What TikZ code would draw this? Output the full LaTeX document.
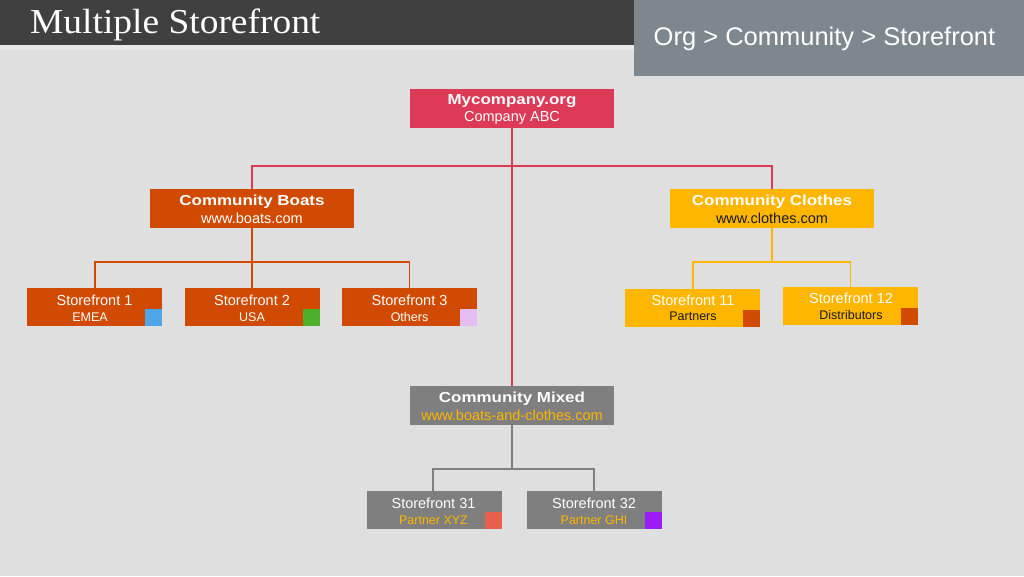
\documentclass[tikz,border=0pt]{standalone}
\usepackage{fontspec}
\setmainfont{Liberation Sans}
\newfontfamily\hdfont[FakeStretch=1.07]{Liberation Serif}
\newfontfamily\bfont[FakeStretch=1.17]{Liberation Sans Bold}
\definecolor{bg}{HTML}{DFDFDF}
\definecolor{strip}{HTML}{E9E9E9}
\definecolor{hdbar}{HTML}{404040}
\definecolor{crumb}{HTML}{7E878D}
\definecolor{crim}{HTML}{DC3A56}
\definecolor{orng}{HTML}{D04A02}
\definecolor{yel}{HTML}{FFB600}
\definecolor{gry}{HTML}{7F7F7F}
\definecolor{sqblue}{HTML}{4EA6E8}
\definecolor{sqgreen}{HTML}{4DB02A}
\definecolor{sqlav}{HTML}{E4BDF2}
\definecolor{sqsalm}{HTML}{E8604C}
\definecolor{sqpurp}{HTML}{9B1CF5}
\definecolor{txtblk}{HTML}{1A1A1A}
\begin{document}
\begin{tikzpicture}[x=1pt,y=-1pt,
  bigbox/.style={inner sep=0pt, outer sep=0pt, minimum width=204pt, minimum height=39pt},
  sfbox/.style={inner sep=0pt, outer sep=0pt, minimum width=135pt, minimum height=38pt},
  sq/.style={inner sep=0pt, outer sep=0pt, minimum size=17pt, anchor=south east},
  ttl/.style={anchor=base, inner sep=0pt, text=white, font=\bfont\fontsize{14.5}{17}\selectfont},
  url/.style={anchor=base, inner sep=0pt, font=\fontsize{14.5}{17}\selectfont},
  sft/.style={anchor=base, inner sep=0pt, text=white, font=\fontsize{14.5}{17}\selectfont},
  sfs/.style={anchor=base, inner sep=0pt, font=\fontsize{12.5}{15}\selectfont},
  cl/.style={line width=1.5pt}
]
\useasboundingbox (0,0) rectangle (1024,576);
\fill[bg] (0,0) rectangle (1024,576);
\fill[strip] (0,45) rectangle (634,50);
\fill[hdbar] (0,0) rectangle (634,45);
\fill[crumb] (634,0) rectangle (1024,76);
\node[anchor=base west, inner sep=0pt, text=white, font=\hdfont\fontsize{35}{40}\selectfont] (title) at (30,33.5) {Multiple Storefront};
\node[anchor=base west, inner sep=0pt, text=white, font=\fontsize{25.5}{30}\selectfont] (crumbs) at (653.5,45) {Org > Community > Storefront};

% boxes
\node[bigbox, fill=crim] (org) at (512,108.5) {};
\node[bigbox, fill=orng] (boats) at (252,208) {};
\node[bigbox, fill=yel] (clothes) at (772,208) {};
\node[bigbox, fill=gry] (mixed) at (512,405.5) {};

\node[sfbox, fill=orng] (sf1) at (94.5,307) {};
\node[sfbox, fill=orng] (sf2) at (252,307) {};
\node[sfbox, fill=orng] (sf3) at (409.5,307) {};
\node[sfbox, fill=yel] (sf11) at (692.5,307.5) {};
\node[sfbox, fill=yel] (sf12) at (850.5,305.5) {};
\node[sfbox, fill=gry] (sf31) at (434,510) {};
\node[sfbox, fill=gry] (sf32) at (594,510) {};

\node[sq, fill=sqblue] (sq1) at (sf1.south east) {};
\node[sq, fill=sqgreen] (sq2) at (sf2.south east) {};
\node[sq, fill=sqlav] (sq3) at (sf3.south east) {};
\node[sq, fill=orng] (sq11) at (sf11.south east) {};
\node[sq, fill=orng] (sq12) at (sf12.south east) {};
\node[sq, fill=sqsalm] (sq31) at (sf31.south east) {};
\node[sq, fill=sqpurp] (sq32) at (sf32.south east) {};

% texts
\node[ttl] (orgt) at (512,104) {Mycompany.org};
\node[url, text=white] (orgs) at (512,121.5) {Company ABC};
\node[ttl] (boatst) at (252,205.5) {Community Boats};
\node[url, text=white] (boatss) at (252,223) {www.boats.com};
\node[ttl] (clothest) at (772,205.5) {Community Clothes};
\node[url, text=txtblk] (clothess) at (772,223) {www.clothes.com};
\node[ttl] (mixedt) at (512,402.5) {Community Mixed};
\node[url, text=yel] (mixeds) at (512,420.5) {www.boats-and-clothes.com};

\node[sft] (sf1t) at (94.5,305.5) {Storefront 1};
\node[sfs, text=white] (sf1s) at (90,321) {EMEA};
\node[sft] (sf2t) at (252,305.5) {Storefront 2};
\node[sfs, text=white] (sf2s) at (252,321) {USA};
\node[sft] (sf3t) at (409.5,305.5) {Storefront 3};
\node[sfs, text=white] (sf3s) at (409.5,321) {Others};
\node[sft] (sf11t) at (693,305.5) {Storefront 11};
\node[sfs, text=txtblk] (sf11s) at (693,320.5) {Partners};
\node[sft] (sf12t) at (851,303.5) {Storefront 12};
\node[sfs, text=txtblk] (sf12s) at (851,319) {Distributors};
\node[sft] (sf31t) at (433.5,508.5) {Storefront 31};
\node[sfs, text=yel] (sf31s) at (433.5,524) {Partner XYZ};
\node[sft] (sf32t) at (594,508.5) {Storefront 32};
\node[sfs, text=yel] (sf32s) at (594,524) {Partner GHI};

% connectors
\coordinate (orgbus) at (512,166);
\coordinate (boatbus) at (252,262);
\coordinate (clothbus) at (772,262);
\coordinate (mixbus) at (512,469);

\draw[cl, crim] (org.south) -- (mixed.north);
\draw[cl, crim] (boats.north) |- (orgbus) -| (clothes.north);

\draw[cl, orng] (boats.south) -- (boatbus);
\draw[cl, orng] ([xshift=0.5pt]sf1.north) |- (boatbus) -| (sf3.north);
\draw[cl, orng] (boatbus) -- (sf2.north);

\draw[cl, yel] (clothes.south) -- (clothbus);
\draw[cl, yel] ([xshift=0.5pt]sf11.north) |- (clothbus) -| (sf12.north);

\draw[cl, gry] (mixed.south) -- (mixbus);
\draw[cl, gry] ([xshift=-1pt]sf31.north) |- (mixbus) -| (sf32.north);
\end{tikzpicture}
\end{document}
